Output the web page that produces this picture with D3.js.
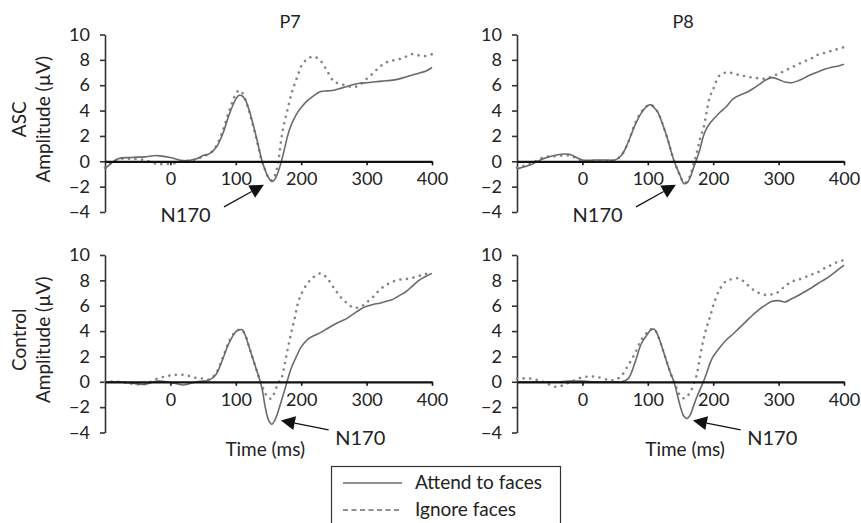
<!DOCTYPE html>
<html>
<head>
<meta charset="utf-8">
<script src="https://cdn.jsdelivr.net/npm/d3@7"></script>
<style>
  body { margin: 0; background: #fff; }
  svg { display: block; font-family: Lato, "Open Sans", sans-serif; }
</style>
</head>
<body>
<div id="chart"></div>
<script>
// time points (ms), shared by every series
const times = [-100, -80, -60, -40, -20, 0, 20, 40, 50, 60, 70, 80, 90, 100, 105, 110, 115, 120,
  130, 135, 140, 145, 150, 155, 160, 165, 170, 175, 180, 185, 190, 195, 200,
  210, 220, 230, 240, 250, 260, 270, 280, 290, 300, 310, 320, 330, 340, 350, 360, 370, 380, 390, 400];

// ASC, P7
const ascP7Attend = [-0.6, 0.2, 0.3, 0.35, 0.45, 0.3, 0.05, 0.2, 0.45, 0.6, 1.1, 2.15, 3.7, 4.9, 5.2, 5.15, 4.8, 4.1,
  2.2, 1.1, 0.05, -0.7, -1.3, -1.6, -1.4, -0.8, 0.05, 1.1, 2.15, 2.9, 3.45, 3.9, 4.25,
  4.8, 5.2, 5.5, 5.55, 5.6, 5.75, 5.9, 6.05, 6.15, 6.2, 6.25, 6.3, 6.35, 6.4, 6.5, 6.65, 6.8, 6.95, 7.1, 7.4];
const ascP7Ignore = [-0.5, 0.15, 0.2, 0.1, -0.2, -0.2, 0, 0.15, 0.4, 0.6, 1.2, 2.4, 4.0, 5.3, 5.6, 5.4, 4.8, 4.0,
  2.1, 1.0, 0.0, -0.7, -1.3, -1.5, -1.1, 0.0, 1.9, 3.2, 4.25, 5.3, 6.1, 6.8, 7.5,
  8.1, 8.25, 7.9, 7.1, 6.3, 6.1, 5.95, 5.85, 6.05, 6.5, 6.95, 7.45, 7.8, 7.95, 8.05, 8.25, 8.45, 8.35, 8.3, 8.45];

// ASC, P8
const ascP8Attend = [-0.6, -0.3, 0.2, 0.5, 0.55, 0.1, 0.1, 0.1, 0.1, 0.5, 1.5, 2.8, 3.8, 4.4, 4.45, 4.2, 3.9, 3.3,
  1.8, 0.9, 0.05, -0.6, -1.2, -1.75, -1.7, -1.25, -0.5, 0.2, 1.0, 2.0, 2.6, 3.0, 3.3,
  3.85, 4.3, 4.9, 5.2, 5.4, 5.7, 6.05, 6.4, 6.6, 6.45, 6.25, 6.2, 6.35, 6.6, 6.85, 7.05, 7.25, 7.4, 7.5, 7.65];
const ascP8Ignore = [-0.5, -0.2, 0.3, 0.4, 0.45, 0.05, 0.05, 0.05, 0.1, 0.5, 1.5, 2.9, 3.9, 4.4, 4.45, 4.25, 3.9, 3.3,
  1.8, 0.9, 0.05, -0.6, -1.2, -1.7, -1.6, -1.1, -0.2, 0.7, 1.8, 2.6, 3.9, 5.1, 5.7,
  6.8, 7.0, 6.95, 6.8, 6.7, 6.6, 6.55, 6.5, 6.7, 6.9, 7.15, 7.4, 7.65, 7.9, 8.1, 8.4, 8.55, 8.7, 8.85, 9.0];

// Control, P7
const ctlP7Attend = [0, 0, -0.1, -0.2, 0.05, -0.05, -0.25, 0, 0.05, 0.15, 0.6, 1.8, 3.1, 3.95, 4.1, 4.1, 3.6, 2.8,
  1.2, 0.4, -0.5, -2.0, -3.0, -3.35, -3.0, -2.3, -1.45, -0.6, 0.3, 1.1, 1.7, 2.25, 2.75,
  3.35, 3.65, 3.9, 4.2, 4.5, 4.75, 5.0, 5.35, 5.7, 5.95, 6.1, 6.2, 6.35, 6.5, 6.8, 7.1, 7.55, 8.0, 8.3, 8.55];
const ctlP7Ignore = [0, 0, -0.15, -0.2, 0.25, 0.5, 0.55, 0.3, 0.25, 0.2, 0.7, 1.9, 3.2, 4.0, 4.1, 4.05, 3.6, 2.8,
  1.2, 0.4, -0.3, -0.9, -1.3, -1.3, -0.7, -0.1, 0.3, 1.45, 2.75, 3.9, 5.0, 6.2, 6.9,
  7.8, 8.3, 8.55, 8.15, 7.4, 6.7, 6.2, 5.85, 5.9, 6.25, 6.7, 7.25, 7.65, 7.9, 8.05, 8.1, 8.2, 8.35, 8.5, 8.55];

// Control, P8
const ctlP8Attend = [0, 0, 0, 0, 0.05, 0.05, 0, 0, 0, 0, 0.25, 1.45, 3.0, 3.8, 4.1, 4.15, 3.7, 3.0,
  1.4, 0.65, 0, -1.0, -2.0, -2.7, -2.9, -2.6, -1.9, -1.2, -0.6, 0, 0.7, 1.45, 2.0,
  2.7, 3.3, 3.75, 4.25, 4.75, 5.25, 5.7, 6.05, 6.35, 6.4, 6.3, 6.55, 6.8, 7.1, 7.4, 7.75, 8.05, 8.4, 8.8, 9.2];
const ctlP8Ignore = [0.25, 0.25, 0, -0.4, -0.05, 0.35, 0.4, 0.15, 0.15, 0.5, 1.3, 2.2, 3.3, 3.95, 4.15, 4.15, 3.7, 3.0,
  1.4, 0.65, 0, -0.6, -1.15, -1.3, -1.15, -0.8, -0.2, 0.6, 2.0, 3.3, 4.3, 5.1, 6.0,
  7.3, 7.95, 8.1, 8.15, 7.75, 7.3, 7.0, 6.85, 6.9, 7.1, 7.55, 7.9, 8.05, 8.25, 8.45, 8.65, 8.95, 9.2, 9.45, 9.6];

const xTicks = [0, 100, 200, 300, 400];
const yTicks = [-4, -2, 0, 2, 4, 6, 8, 10];
const electrodes = ["P7", "P8"];
const groups = ["ASC", "Control"];
const legendLabels = ["Attend to faces", "Ignore faces"];

const width = 861, height = 523;
const svg = d3.select("#chart").append("svg")
  .attr("width", width).attr("height", height);

const panels = [
  { col: 0, row: 0, attend: ascP7Attend, ignore: ascP7Ignore },
  { col: 1, row: 0, attend: ascP8Attend, ignore: ascP8Ignore },
  { col: 0, row: 1, attend: ctlP7Attend, ignore: ctlP7Ignore },
  { col: 1, row: 1, attend: ctlP8Attend, ignore: ctlP8Ignore }
];

const colLeft = [105, 517];
const rowTop = [34.5, 255];
const pw = 327, ph = 177.5;
const titleAt = [183, 154];   // time position of the electrode titles
const timeLabelAt = [145, 157];
const fmt = d => d < 0 ? "\u2212" + Math.abs(d) : d;

panels.forEach(p => {
  const x = d3.scaleLinear().domain([-100, 400]).range([colLeft[p.col], colLeft[p.col] + pw]);
  const y = d3.scaleLinear().domain([-4, 10]).range([rowTop[p.row] + ph, rowTop[p.row]]);

  // y axis
  const ya = svg.append("g")
    .attr("transform", `translate(${x(-100)},0)`)
    .call(d3.axisLeft(y).tickValues(yTicks).tickSize(5).tickSizeOuter(0).tickPadding(10).tickFormat(fmt));
  ya.select(".domain").attr("stroke", "#333").attr("stroke-width", 1.6);
  ya.selectAll(".tick line").attr("stroke", "#333").attr("stroke-width", 1.6);
  ya.selectAll("text").attr("font-size", 18).attr("fill", "#222").attr("font-family", "Lato, sans-serif");

  // series
  const line = d3.line()
    .x((d, i) => x(times[i]))
    .y(d => y(d))
    .curve(d3.curveCatmullRom.alpha(0.5));

  svg.append("path").datum(p.ignore)
    .attr("d", line)
    .attr("fill", "none")
    .attr("stroke", "#858585")
    .attr("stroke-width", 2.6)
    .attr("stroke-linecap", "round")
    .attr("stroke-dasharray", "0.1,6.5");

  svg.append("path").datum(p.attend)
    .attr("d", line)
    .attr("fill", "none")
    .attr("stroke", "#6a6a6a")
    .attr("stroke-width", 1.6);

  // x axis at zero
  const xa = svg.append("g")
    .attr("transform", `translate(0,${y(0)})`)
    .call(d3.axisBottom(x).tickValues(xTicks).tickSize(4).tickSizeOuter(0).tickPadding(7));
  xa.select(".domain").attr("stroke", "#111").attr("stroke-width", 2.2);
  xa.selectAll(".tick line").attr("stroke", "#111").attr("stroke-width", 1.6);
  xa.selectAll("text").attr("font-size", 18).attr("fill", "#222").attr("font-family", "Lato, sans-serif");

  // N170 annotation
  const arrow = p.row === 0
    ? { tip: [143, -1.85], tail: [82, -3.6], text: [-15, -4.75] }
    : { tip: [169, -3.05], tail: [242, -3.8], text: [252, -5.0] };
  const tx = x(arrow.tip[0]), ty = y(arrow.tip[1]);
  const sx = x(arrow.tail[0]), sy = y(arrow.tail[1]);
  const len = Math.hypot(tx - sx, ty - sy);
  const ux = (tx - sx) / len, uy = (ty - sy) / len;
  const hl = 14, hw = 7;
  const bx = tx - ux * hl, by = ty - uy * hl;
  svg.append("line")
    .attr("x1", sx).attr("y1", sy).attr("x2", bx).attr("y2", by)
    .attr("stroke", "#111").attr("stroke-width", 1.3);
  svg.append("path")
    .attr("d", `M${tx},${ty}L${bx - uy * hw},${by + ux * hw}L${bx + uy * hw},${by - ux * hw}Z`)
    .attr("fill", "#111");
  svg.append("text")
    .attr("x", x(arrow.text[0])).attr("y", y(arrow.text[1]))
    .attr("font-size", 20).attr("fill", "#222")
    .text("N170");

  if (p.row === 0) {
    svg.append("text")
      .attr("x", x(titleAt[p.col])).attr("y", 28)
      .attr("text-anchor", "middle")
      .attr("font-size", 18).attr("fill", "#222")
      .text(electrodes[p.col]);
  } else {
    svg.append("text")
      .attr("x", x(timeLabelAt[p.col])).attr("y", y(-4) + 23)
      .attr("text-anchor", "middle")
      .attr("font-size", 19).attr("fill", "#222")
      .text("Time (ms)");
  }

  if (p.col === 0) {
    const cy = (y(10) + y(-4)) / 2 - 4;
    svg.append("text")
      .attr("transform", `translate(26,${cy}) rotate(-90)`)
      .attr("text-anchor", "middle")
      .attr("font-size", 19).attr("fill", "#222")
      .text(groups[p.row]);
    svg.append("text")
      .attr("transform", `translate(50,${cy}) rotate(-90)`)
      .attr("text-anchor", "middle")
      .attr("font-size", 19).attr("fill", "#222")
      .text("Amplitude (\u00b5V)");
  }
});

// legend
const lg = svg.append("g");
lg.append("rect")
  .attr("x", 331.5).attr("y", 466.5).attr("width", 229).attr("height", 80)
  .attr("fill", "none").attr("stroke", "#333").attr("stroke-width", 1.2);
legendLabels.forEach((label, i) => {
  const ly = 483 + i * 27;
  lg.append("line")
    .attr("x1", 343).attr("x2", 402).attr("y1", ly).attr("y2", ly)
    .attr("stroke", "#222").attr("stroke-width", 1)
    .attr("stroke-dasharray", i === 0 ? null : "5,3.5");
  lg.append("text")
    .attr("x", 415).attr("y", ly + 5.5)
    .attr("font-size", 19).attr("fill", "#222")
    .text(label);
});
</script>
</body>
</html>
